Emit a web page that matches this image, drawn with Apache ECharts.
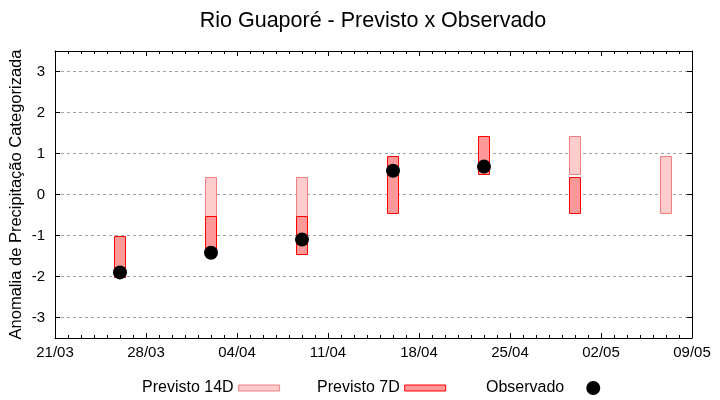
<!DOCTYPE html>
<html><head><meta charset="utf-8">
<script src="https://cdn.jsdelivr.net/npm/echarts@6/dist/echarts.min.js"></script>
<style>html,body{margin:0;padding:0;background:#fff}#c{width:720px;height:400px}</style>
</head><body><div id="c"></div>
<script>
const startDate = '2024-03-21';
const endDate = '2024-05-09';
const tickLabels = ['21/03','28/03','04/04','11/04','18/04','25/04','02/05','09/05'];
const yTicks = [-3,-2,-1,0,1,2,3];
const dates14 = ['2024-04-02','2024-04-09','2024-04-30','2024-05-07'];
const low14 = [-0.52,-0.52,0.51,-0.45];
const high14 = [0.43,0.43,1.43,0.95];
const dates7 = ['2024-03-26','2024-04-02','2024-04-09','2024-04-16','2024-04-23','2024-04-30'];
const low7 = [-2.0,-1.45,-1.45,-0.45,0.51,-0.45];
const high7 = [-1.0,-0.52,-0.52,0.95,1.43,0.43];
const obsDates = ['2024-03-26','2024-04-02','2024-04-09','2024-04-16','2024-04-23'];
const obsValues = [-1.9,-1.42,-1.1,0.58,0.68];

const DAY = 86400000;
const dayIndex = d => Math.round((Date.parse(d) - Date.parse(startDate)) / DAY);
const xMax = dayIndex(endDate);
const FONT = 'Liberation Sans, Arial, sans-serif';

const C14 = { fill: '#ffcccc', stroke: '#f08080' };
const C7 = { fill: '#ff9999', stroke: '#ff0000' };

function boxRenderer(c) {
  return function (params, api) {
    const x = api.value(0), lo = api.value(1), hi = api.value(2);
    const pLo = api.coord([x, lo]), pHi = api.coord([x, hi]);
    const w = api.size([0.88, 0])[0];
    return {
      type: 'rect',
      shape: { x: Math.round(pLo[0] - w / 2) + 0.5, y: Math.round(pHi[1]) + 0.5, width: Math.round(w), height: Math.round(pLo[1] - pHi[1]) },
      style: { fill: c.fill, stroke: c.stroke, lineWidth: 1 }
    };
  };
}

const baseX = {
  type: 'value', min: 0, max: xMax, interval: 7,
  axisLine: { show: true, onZero: false, lineStyle: { color: '#000', width: 1 } },
  axisTick: { show: true, inside: true, length: 5, lineStyle: { color: '#000' } },
  minorTick: { show: true, splitNumber: 7, length: 3, lineStyle: { color: '#000' } },
  splitLine: { show: false }
};
const baseY = {
  type: 'value', min: -3.5, max: 3.5, splitNumber: 7,
  axisLine: { show: true, onZero: false, lineStyle: { color: '#000', width: 1 } },
  axisTick: { show: true, inside: true, length: 5, lineStyle: { color: '#000' } }
};

const chart = echarts.init(document.getElementById('c'), null, { renderer: 'canvas' });
chart.setOption({
  animation: false,
  backgroundColor: '#fff',
  title: {
    text: 'Rio Guaporé - Previsto x Observado',
    left: 368, top: 5, textAlign: 'center',
    textStyle: { fontFamily: FONT, fontSize: 21.5, fontWeight: 'normal', color: '#000' }
  },
  grid: { left: 55, right: 28, top: 51, bottom: 62, containLabel: false, outerBoundsMode: 'none' },
  xAxis: [
    Object.assign({}, baseX, {
      position: 'bottom',
      axisLabel: { show: true, margin: 7, fontFamily: FONT, fontSize: 15, color: '#000',
        formatter: v => tickLabels[Math.round(v / 7)] || '' }
    }),
    Object.assign({}, baseX, { position: 'top', axisLabel: { show: false } })
  ],
  yAxis: [
    Object.assign({}, baseY, {
      position: 'left',
      name: 'Anomalia de Precipitação Categorizada',
      nameLocation: 'middle', nameGap: 30, nameMoveOverlap: false,
      nameTextStyle: { fontFamily: FONT, fontSize: 16.5, color: '#000' },
      axisLabel: { show: true, margin: 10, fontFamily: FONT, fontSize: 15, color: '#000',
        formatter: v => (yTicks.indexOf(v) >= 0 ? String(v) : '') },
      splitLine: { show: true, lineStyle: { color: '#a0a0a0', width: 1, type: [3, 3] } }
    }),
    Object.assign({}, baseY, { position: 'right', axisLabel: { show: false }, splitLine: { show: false } })
  ],
  legend: [
    { data: [{ name: 'Previsto 14D', icon: 'rect', itemStyle: { color: C14.fill, borderColor: C14.stroke, borderWidth: 1 } }],
      left: 142, top: 380, padding: 0, align: 'right', itemWidth: 41, itemHeight: 6, selectedMode: false,
      textStyle: { fontFamily: FONT, fontSize: 16, color: '#000' } },
    { data: [{ name: 'Previsto 7D', icon: 'rect', itemStyle: { color: C7.fill, borderColor: C7.stroke, borderWidth: 1 } }],
      left: 317, top: 380, padding: 0, align: 'right', itemWidth: 41, itemHeight: 6, selectedMode: false,
      textStyle: { fontFamily: FONT, fontSize: 16, color: '#000' } },
    { data: [{ name: 'Observado', icon: 'circle', itemStyle: { color: '#000' } }],
      left: 486, top: 380, padding: 0, align: 'right', itemWidth: 48, itemHeight: 14, selectedMode: false,
      textStyle: { fontFamily: FONT, fontSize: 16, color: '#000' } }
  ],
  series: [
    { name: 'Previsto 14D', type: 'custom', renderItem: boxRenderer(C14), itemStyle: { color: C14.fill },
      encode: { x: 0, y: [1, 2] }, z: 2,
      data: dates14.map((d, i) => [dayIndex(d), low14[i], high14[i]]) },
    { name: 'Previsto 7D', type: 'custom', renderItem: boxRenderer(C7), itemStyle: { color: C7.fill },
      encode: { x: 0, y: [1, 2] }, z: 3,
      data: dates7.map((d, i) => [dayIndex(d), low7[i], high7[i]]) },
    { name: 'Observado', type: 'scatter', symbol: 'circle', symbolSize: 14, z: 4,
      itemStyle: { color: '#000', opacity: 1 },
      data: obsDates.map((d, i) => [dayIndex(d), obsValues[i]]) }
  ]
});
</script></body></html>
